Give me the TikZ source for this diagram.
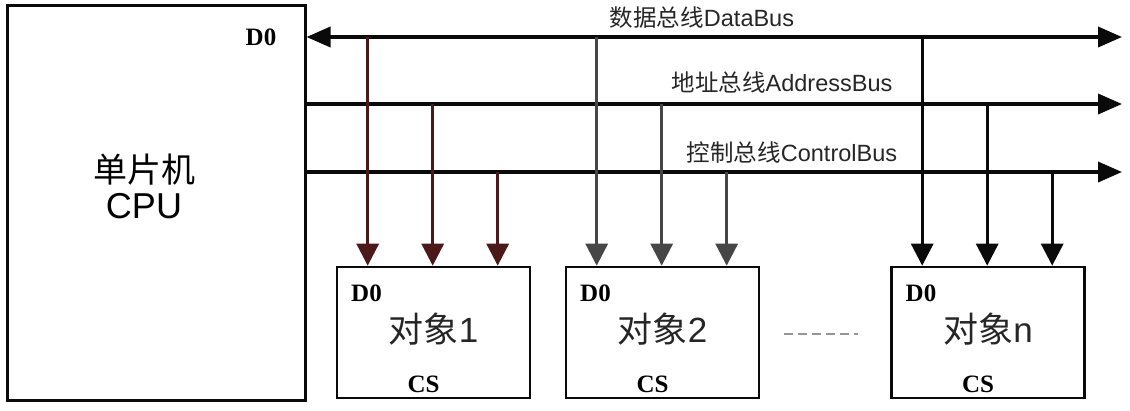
\documentclass[tikz,border=0pt]{standalone}
\usepackage{fontspec}
\setmainfont{Liberation Serif}
\setsansfont{Liberation Sans}
\newfontfamily\cjk{Noto Sans CJK SC}
\usepackage{tikz}
\usetikzlibrary{arrows.meta, positioning, calc}
\definecolor{busblack}{RGB}{10,10,10}
\definecolor{dropbrown}{RGB}{75,25,25}
\definecolor{dropgray}{RGB}{70,70,70}
\definecolor{dotgray}{RGB}{150,150,150}
\tikzset{
  cpu/.style={rectangle, draw=busblack, line width=3pt, minimum width=298pt,
    minimum height=395pt, align=center, font=\sffamily\fontsize{36}{40}\selectfont},
  obj/.style={rectangle, draw=busblack, line width=2.6pt, minimum width=193pt,
    minimum height=131pt},
  objtxt/.style={font=\fontsize{35}{38}\selectfont, text=black!85},
  pin/.style={font=\bfseries\fontsize{25}{27}\selectfont},
  buslbl/.style={font=\fontsize{23.5}{26}\selectfont, text=black!85, inner sep=0pt},
  bus/.style={line width=3.6pt, busblack, -{Triangle[length=24pt,width=20pt]}},
  drop/.style={line width=3pt, -{Triangle[length=22pt,width=22pt]}}
}

\begin{document}
\begin{tikzpicture}[x=1pt, y=-1pt, node distance=35pt]
  \useasboundingbox (0,0) rectangle (1130,410);
  % host
  \node[cpu] (cpu) at (156,202.5) {};
  \node[font=\sffamily\fontsize{36}{40}\selectfont, align=center] (cpulbl) at (144,186)
    {{\cjk\fontsize{34}{38}\selectfont 单片机}\\[-4pt]CPU};
  \node[pin] (cpud0) at (261,37) {D0};

  % bus ends
  \coordinate (data-w) at (cpu.east |- 0,37);
  \coordinate (data-e) at (1122,37);
  \coordinate (addr-w) at (cpu.east |- 0,104);
  \coordinate (addr-e) at (1122,104);
  \coordinate (ctrl-w) at (cpu.east |- 0,172);
  \coordinate (ctrl-e) at (1122,172);

  \draw[bus, {Triangle[length=24pt,width=20pt]}-{Triangle[length=24pt,width=20pt]}] (data-w) -- (data-e);
  \draw[bus] (addr-w) -- (addr-e);
  \draw[bus] (ctrl-w) -- (ctrl-e);

  \node[buslbl] (datalbl) at (702,18) {{\cjk 数据总线}{\sffamily DataBus}};
  \node[buslbl] (addrlbl) at (782,83) {{\cjk 地址总线}{\sffamily AddressBus}};
  \node[buslbl] (ctrllbl) at (792,153) {{\cjk 控制总线}{\sffamily ControlBus}};

  % slaves
  \node[obj] (obj1) at (433.5,332.5) {};
  \node[obj] (obj2) at (662.5,332.5) {};
  \node[obj] (objn) at (988,332.5) {};
  \foreach \o/\n/\c in {obj1/1/dropbrown, obj2/2/dropgray, objn/n/busblack}{
    \node[pin, anchor=west] (\o-d0) at ($(\o.north west)+(12,28)$) {D0};
    \node[objtxt] (\o-name) at ($(\o.center)+(0,-3)$) {{\cjk 对象}{\sffamily \n}};
    \node[pin] (\o-cs) at ($(\o.south)+(-10,-15)$) {CS};
    \coordinate (\o-a) at ($(\o.north west)+(32,0)$);
    \coordinate (\o-b) at ($(\o.north west)+(97,0)$);
    \coordinate (\o-c) at ($(\o.north west)+(162,0)$);
    \draw[drop, \c] (\o-a |- data-w) -- (\o-a);
    \draw[drop, \c] (\o-b |- addr-w) -- (\o-b);
    \draw[drop, \c] (\o-c |- ctrl-w) -- (\o-c);
  }
  \draw[dotgray, line width=1.5pt, dash pattern=on 9pt off 5pt] (obj2.east |- 0,334) ++(24,0) coordinate (gap-w) -- ($(objn.west |- 0,334)+(-32,0)$) coordinate (gap-e);
\end{tikzpicture}
\end{document}
